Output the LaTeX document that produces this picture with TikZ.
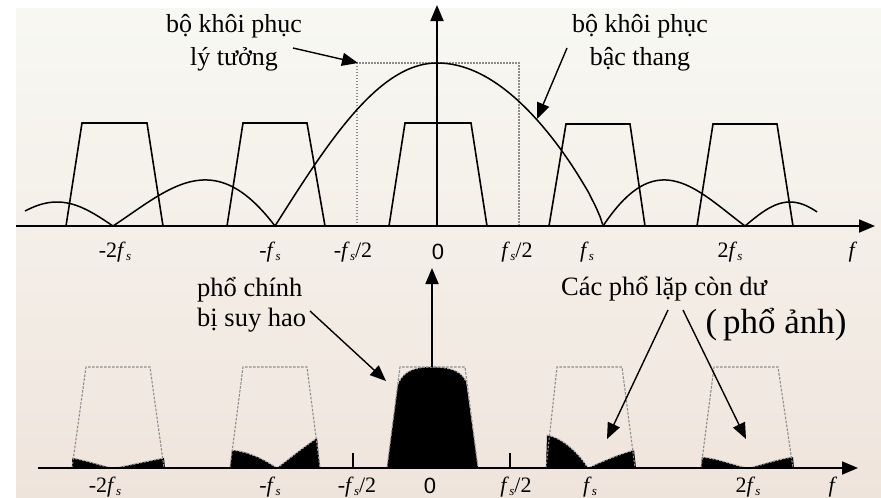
\documentclass[tikz,border=0pt]{standalone}
\usepackage{fontspec}
\setmainfont{Liberation Serif}
\newfontfamily\sansf{Liberation Sans}
\usetikzlibrary{arrows.meta}
\newcommand{\fsub}{\textit{f}\kern0.3pt\raisebox{-0.3ex}{\fontsize{13}{13}\selectfont\textit{s}}}
\definecolor{bgtop}{HTML}{F8F8F3}
\definecolor{bgbot}{HTML}{EFE4DC}
\definecolor{dashgray}{HTML}{8C8C8C}
\begin{document}
\begin{tikzpicture}[x=1pt,y=-1pt,
  axisline/.style={line width=1.8pt, -{Triangle[length=16pt,width=13pt]}},
  trapline/.style={line width=1.6pt, line join=miter},
  dtrap/.style={draw=dashgray, line width=1.1pt, dash pattern=on 2.5pt off 1.5pt},
  dotrect/.style={draw=dashgray, line width=1.2pt, dash pattern=on 1.5pt off 1.5pt},
  curveline/.style={line width=1.5pt},
  pointer/.style={line width=1.4pt, -{Triangle[length=16pt,width=13pt]}},
  lab/.style={font=\fontsize{22}{26}\selectfont, inner sep=0pt},
  txt/.style={font=\fontsize{26}{33}\selectfont, align=center, inner sep=0pt},
  blkfill/.style={fill=black},
  blkedge/.style={draw=white!70!black, line width=1.2pt, dash pattern=on 2pt off 1.5pt},
  tickline/.style={line width=1.2pt}
]
\useasboundingbox (0,0) rectangle (881,498);
\fill[white] (0,0) rectangle (881,498);
\shade[top color=bgtop, bottom color=bgbot] (16,8) rectangle (881,498);

% ================= TOP PANEL =================
% dotted ideal reconstruction filter
\draw[dotrect] (357,226) -- (357,63) -- (519,63) -- (519,226);

% trapezoids
\draw[trapline] (66,226) -- (82,123) -- (147,123) -- (163,226);
\draw[trapline] (227,226) -- (243,123) -- (307,123) -- (325,226);
\draw[trapline] (389,226) -- (405,123) -- (471,123) -- (487,226);
\draw[trapline] (549,226) -- (566,124) -- (630,124) -- (645,226);
\draw[trapline] (697,226) -- (713,124) -- (777,124) -- (793,226);

% staircase reconstruction response
\draw[curveline] plot[domain=-1:0, samples=60] ({437+162*\x}, {226-163*cos(90*\x)})
  -- plot[domain=0:0.999, samples=60] ({437+166*\x}, {226-163*pow(cos(90*\x),0.8)});
\draw[curveline] plot[domain=1:2, samples=50] ({275-(\x-1)*162}, {226+67.5*sin(180*\x)/\x});
\draw[curveline] plot[domain=1:2, samples=50] ({603+(\x-1)*142}, {226+67.5*sin(180*\x)/\x});
\draw[curveline] plot[domain=0:88, samples=40] ({113-\x}, {226-24*sin(180*\x/112)});
\draw[curveline] plot[domain=0:72, samples=40] ({745+\x}, {226-24*sin(180*\x/90)});

% axes
\coordinate (tx0) at (16,226);
\coordinate (tx1) at (875,226);
\coordinate (ty0) at (437,226);
\coordinate (ty1) at (437,5);
\draw[axisline] (tx0) -- (tx1);
\draw[axisline] (ty0) -- (ty1);

% axis labels
\node[lab] (tl1) at (115,252) {-2\fsub};
\node[lab] (tl2) at (270,252) {-\fsub};
\node[lab] (tl3) at (353,252) {-\fsub/2};
\node[lab] (tl4) at (438,252) {\sansf 0};
\node[lab] (tl5) at (517,252) {\fsub/2};
\node[lab] (tl6) at (587,252) {\fsub};
\node[lab] (tl7) at (730,252) {2\fsub};
\node[lab] (tl8) at (853,252) {\textit{f}};

% annotations
\node[txt] (ideal) at (234,43) {bộ khôi phục\\lý tưởng};
\node[txt] (stair) at (640,43) {bộ khôi phục\\bậc thang};
\coordinate (ideal-s) at (293,48);
\coordinate (ideal-e) at (358,63);
\coordinate (stair-s) at (567,48);
\coordinate (stair-e) at (537,119);
\draw[pointer] (ideal-s) -- (ideal-e);
\draw[pointer] (stair-s) -- (stair-e);

% ================= BOTTOM PANEL =================
% black attenuated spectra
\fill[blkfill] (72,468) -- (72,458) .. controls (90,461) and (104,467) .. (114,468)
  .. controls (126,466) and (148,461) .. (164,458) -- (165,468) -- cycle;
\draw[blkedge] (72,458) .. controls (90,461) and (104,467) .. (114,468)
  .. controls (126,466) and (148,461) .. (164,458);

\fill[blkfill] (230,468) -- (232,450) .. controls (252,452) and (268,462) .. (277,468)
  .. controls (290,458) and (305,446) .. (317,438) -- (320,468) -- cycle;
\draw[blkedge] (232,450) .. controls (252,452) and (268,462) .. (277,468)
  .. controls (290,458) and (305,446) .. (317,438);

\fill[blkfill] (387,468) -- (398,384) .. controls (404,369) and (418,367) .. (432,367)
  .. controls (446,367) and (460,369) .. (466,381) -- (478,468) -- cycle;
\draw[blkedge] (398,384) .. controls (404,369) and (418,367) .. (432,367)
  .. controls (446,367) and (460,369) .. (466,381);

\fill[blkfill] (546,468) -- (547,435) .. controls (562,438) and (578,452) .. (588,468)
  .. controls (603,461) and (620,454) .. (634,450) -- (636,468) -- cycle;
\draw[blkedge] (547,435) .. controls (562,438) and (578,452) .. (588,468)
  .. controls (603,461) and (620,454) .. (634,450);

\fill[blkfill] (701,468) -- (702,457) .. controls (720,459) and (736,466) .. (748,468)
  .. controls (762,465) and (778,459) .. (793,457) -- (794,468) -- cycle;
\draw[blkedge] (702,457) .. controls (720,459) and (736,466) .. (748,468)
  .. controls (762,465) and (778,459) .. (793,457);

% dashed trapezoids
\draw[dtrap] (72,468) -- (86,367) -- (150,367) -- (164,468);
\draw[dtrap] (230,468) -- (243,367) -- (307,367) -- (320,468);
\draw[dtrap] (387,468) -- (400,367) -- (465,367) -- (478,468);
\draw[dtrap] (546,468) -- (557,367) -- (622,367) -- (635,468);
\draw[dtrap] (701,468) -- (714,367) -- (778,367) -- (793,468);

% ticks
\draw[tickline] (353,453) -- (353,468);
\draw[tickline] (510,453) -- (510,468);

% axes
\coordinate (bx0) at (38,468);
\coordinate (bx1) at (858,468);
\coordinate (by0) at (432,367);
\coordinate (by1) at (432,268);
\draw[axisline] (bx0) -- (bx1);
\draw[axisline] (by0) -- (by1);

% axis labels
\node[lab] (bl1) at (105,487) {-2\fsub};
\node[lab] (bl2) at (270,487) {-\fsub};
\node[lab] (bl3) at (357,487) {-\fsub/2};
\node[lab] (bl4) at (430,486) {\sansf 0};
\node[lab] (bl5) at (516,487) {\fsub/2};
\node[lab] (bl6) at (590,487) {\fsub};
\node[lab] (bl7) at (748,487) {2\fsub};
\node[lab] (bl8) at (833,487) {\textit{f}};

% annotations
\node[txt, align=left, anchor=west, font=\fontsize{26.5}{30}\selectfont] (main) at (197,305) {phổ chính\\bị suy hao};
\node[txt, font=\fontsize{26.5}{33}\selectfont] (images) at (664,289) {Các phổ lặp còn dư};
\node[txt, font=\fontsize{35}{38}\selectfont] (imgpar) at (776,325) {(\,phổ ảnh)};
\coordinate (main-s) at (310,311);
\coordinate (main-e) at (386,381);
\coordinate (img-s1) at (668,310);
\coordinate (img-e1) at (607,439);
\coordinate (img-s2) at (683,310);
\coordinate (img-e2) at (746,439);
\draw[pointer] (main-s) -- (main-e);
\draw[pointer] (img-s1) -- (img-e1);
\draw[pointer] (img-s2) -- (img-e2);
\end{tikzpicture}
\end{document}
